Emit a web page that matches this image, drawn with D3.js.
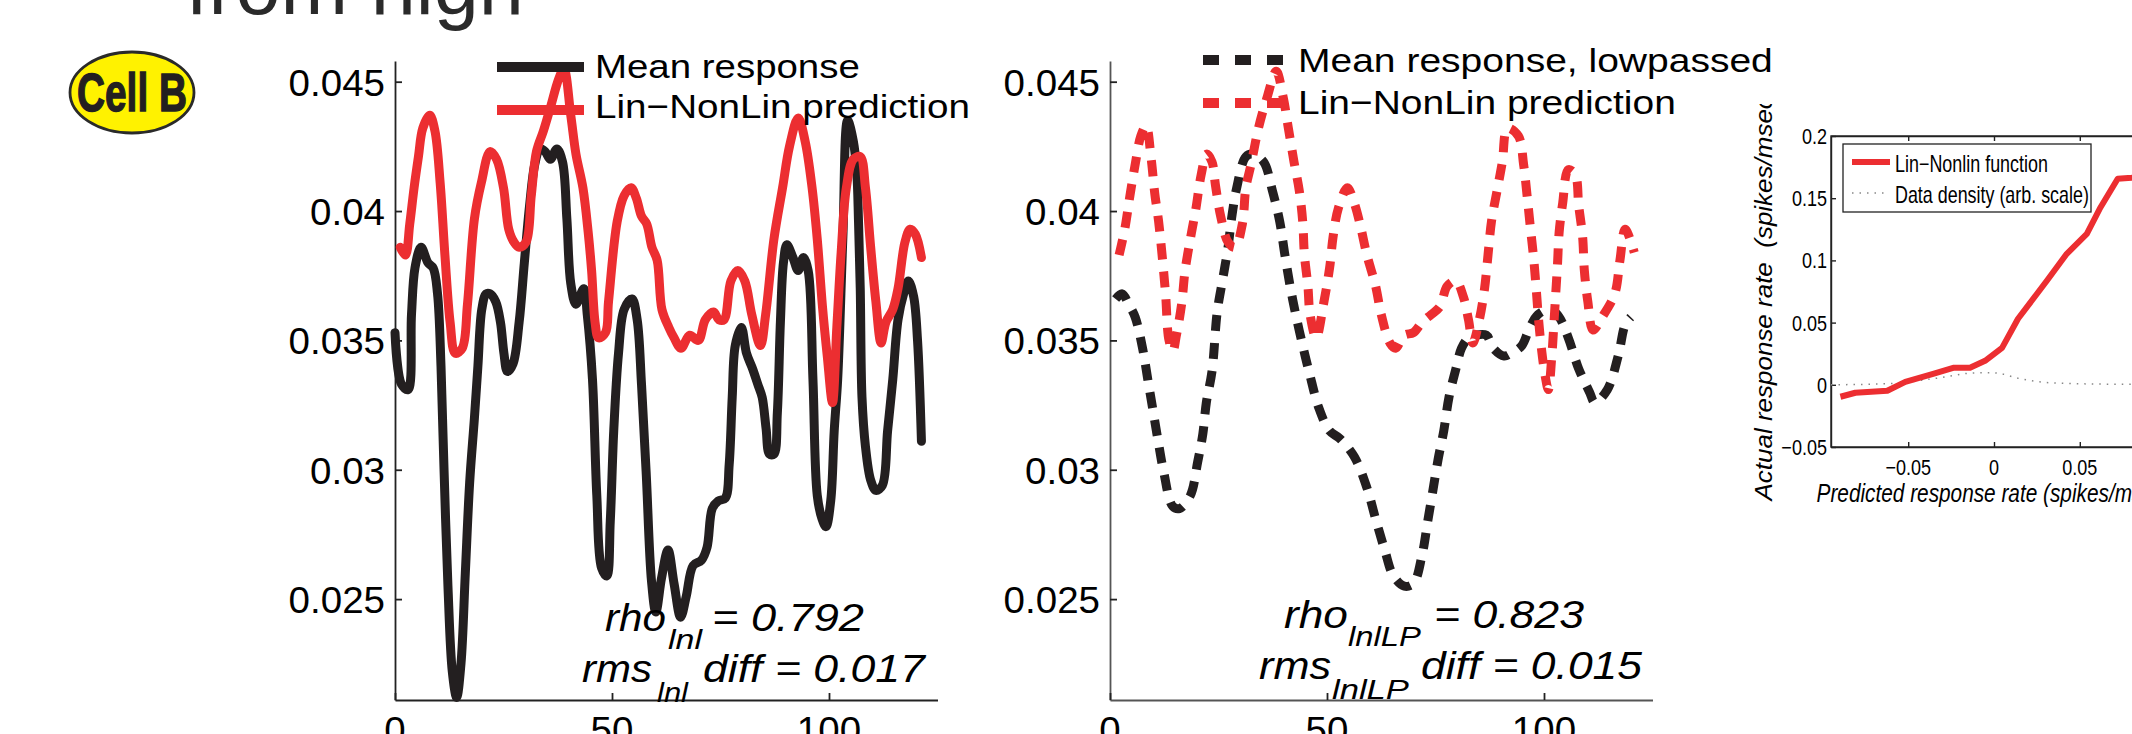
<!DOCTYPE html>
<html>
<head>
<meta charset="utf-8">
<script src="https://cdn.jsdelivr.net/npm/d3@7"></script>
<style>
  body { margin: 0; background: #fff; }
  svg { display: block; }
  text { font-family: "Liberation Sans", Arial, Helvetica, sans-serif; white-space: pre; }
</style>
</head>
<body>
<svg id="fig" width="2132" height="734"></svg>
<script>
// ========== DATA ==========
// panel 1: mean response vs Lin-NonLin prediction (time in samples)
var meanX = [0, 1.5, 3.0, 3.8, 4.6, 6.0, 7.6, 8.8, 9.8, 10.6, 11.3, 12.2, 13.2, 14.2, 15.2, 16.2, 17.2, 18.3, 19.1, 20, 21, 21.9, 23.2, 24.3, 25.1, 25.9, 27.2, 28.6, 29.8, 31, 32.2, 33.4, 34.6, 35.8, 37.3, 38.6, 39.6, 40.5, 41.7, 43.5, 44.3, 45.5, 46.5, 47.6, 48.8, 49.6, 50.4, 51.5, 52.8, 54.6, 55.8, 56.8, 57.9, 59.1, 60.1, 61.4, 62.9, 64.3, 65.8, 67.1, 68.7, 70.6, 71.9, 73.1, 74.5, 76.1, 77.0, 77.7, 78.4, 79.8, 81, 82.4, 83.6, 84.6, 85.5, 86.3, 87.3, 88.1, 88.8, 89.5, 90.3, 91.7, 92.9, 94.1, 95.2, 96.3, 97.3, 98.4, 99.3, 100.4, 101.2, 102, 103.2, 104.3, 105.6, 106.4, 106.8, 107.2, 107.6, 108.4, 109.6, 110.8, 112.3, 113.5, 114.7, 115.9, 117.2, 118.3, 119.5, 120.4, 121.3];
var meanY = [0.0353, 0.0333, 0.0331, 0.0360, 0.0378, 0.0386, 0.0380, 0.0378, 0.0368, 0.0340, 0.0300, 0.0255, 0.0222, 0.0212, 0.0225, 0.0260, 0.0295, 0.0320, 0.0340, 0.0362, 0.0368, 0.0368, 0.0365, 0.0357, 0.0345, 0.0338, 0.0341, 0.0357, 0.0380, 0.0402, 0.0418, 0.0424, 0.0423, 0.0420, 0.0424, 0.0419, 0.0397, 0.0372, 0.0364, 0.0370, 0.0360, 0.0335, 0.0290, 0.0262, 0.0259, 0.0280, 0.0315, 0.0345, 0.0362, 0.0366, 0.0358, 0.0333, 0.0298, 0.0257, 0.0245, 0.0258, 0.0269, 0.0256, 0.0243, 0.0251, 0.0263, 0.0265, 0.0270, 0.0285, 0.0288, 0.0289, 0.0302, 0.0328, 0.0348, 0.0355, 0.0345, 0.0339, 0.0333, 0.0328, 0.0316, 0.0306, 0.0306, 0.0322, 0.0357, 0.0380, 0.0387, 0.0382, 0.0377, 0.0382, 0.0377, 0.0335, 0.0290, 0.0281, 0.0278, 0.0288, 0.0315, 0.0335, 0.0390, 0.0435, 0.0427, 0.0415, 0.0396, 0.0370, 0.0328, 0.0309, 0.0296, 0.0292, 0.0294, 0.0315, 0.0335, 0.0358, 0.0368, 0.0373, 0.0367, 0.0350, 0.0311];

var predX = [1.2, 2.4, 3.4, 4.4, 5.4, 6.4, 8.0, 9.2, 10.4, 11.5, 12.7, 13.9, 15.5, 16.7, 18.3, 19.9, 21.9, 23.4, 25.0, 26.2, 27.4, 28.6, 30.2, 31.4, 32.6, 34.2, 35.8, 37.7, 38.9, 40.5, 41.7, 43.3, 44.5, 45.3, 46.1, 46.9, 48.5, 49.2, 51.2, 52.8, 54.4, 55.6, 56.8, 58.0, 59.2, 60.4, 61.5, 63.1, 64.3, 65.9, 67.9, 69.9, 71.5, 73.4, 74.6, 75.8, 77.4, 79.0, 80.6, 82.2, 84.2, 85.4, 87.3, 89.3, 90.9, 92.9, 94.5, 96.1, 97.3, 98.5, 99.6, 100.8, 101.8, 102.8, 104.0, 105.6, 107.2, 108.4, 109.6, 110.8, 112.0, 113.1, 114.7, 115.9, 117.5, 118.7, 119.9, 121.3];
var predY = [0.0386, 0.0383, 0.0395, 0.0409, 0.0421, 0.0432, 0.0437, 0.0431, 0.0411, 0.0383, 0.0357, 0.0345, 0.0347, 0.0364, 0.0397, 0.0411, 0.0423, 0.0420, 0.0409, 0.0393, 0.0388, 0.0386, 0.0388, 0.0406, 0.0423, 0.0431, 0.0440, 0.0451, 0.0455, 0.0437, 0.0422, 0.0409, 0.0392, 0.0377, 0.0357, 0.0351, 0.0353, 0.0365, 0.0396, 0.0406, 0.0409, 0.0405, 0.0398, 0.0395, 0.0386, 0.0381, 0.0362, 0.0355, 0.0351, 0.0347, 0.0352, 0.0350, 0.0358, 0.0361, 0.0358, 0.0358, 0.0373, 0.0377, 0.0373, 0.0360, 0.0348, 0.0360, 0.0389, 0.0409, 0.0425, 0.0436, 0.0427, 0.0409, 0.0389, 0.0363, 0.0344, 0.0326, 0.0355, 0.0384, 0.0409, 0.0420, 0.0421, 0.0409, 0.0386, 0.0365, 0.0349, 0.0357, 0.0362, 0.0370, 0.0388, 0.0393, 0.0391, 0.0382];

// panel 2: lowpassed mean response vs prediction
var lpMeanX = [1.3, 2.8, 4.3, 5.8, 7.5, 8.7, 10.0, 11.2, 12.4, 14.4, 16.0, 18.5, 20.2, 21.4, 22.2, 23.5, 24.7, 25.9, 27.2, 28.0, 29.2, 31.3, 32.9, 35.4, 37.4, 39.1, 40.3, 41.5, 42.8, 44.4, 46.0, 48.1, 50.6, 53.0, 56.3, 59.2, 61.2, 63.3, 65.3, 67.8, 69.9, 71.9, 73.2, 74.4, 75.6, 76.9, 78.1, 79.7, 81.0, 82.6, 84.3, 86.7, 88.3, 90.8, 92.4, 94.9, 96.5, 98.6, 101.5, 103.5, 105.6, 108.0, 110.5, 111.7, 114.6, 117.1, 118.7, 120.0];
var lpMeanY = [0.0366, 0.0368, 0.0364, 0.0359, 0.0347, 0.0335, 0.0322, 0.0310, 0.0299, 0.0286, 0.0285, 0.0290, 0.0303, 0.0314, 0.0326, 0.0338, 0.0361, 0.0373, 0.0386, 0.0397, 0.0409, 0.0421, 0.0422, 0.0419, 0.0408, 0.0396, 0.0383, 0.0371, 0.0360, 0.0348, 0.0337, 0.0324, 0.0315, 0.0312, 0.0305, 0.0293, 0.0281, 0.0269, 0.0259, 0.0255, 0.0256, 0.0267, 0.0280, 0.0292, 0.0304, 0.0315, 0.0328, 0.0339, 0.0347, 0.0351, 0.0352, 0.0352, 0.0347, 0.0344, 0.0345, 0.0348, 0.0354, 0.0360, 0.0362, 0.0359, 0.0351, 0.0339, 0.0330, 0.0326, 0.0331, 0.0344, 0.0356, 0.0359];

var lpPredX = [2.1, 3.4, 4.6, 5.8, 7.1, 8.3, 9.5, 10.3, 11.2, 12.0, 12.8, 13.6, 14.5, 15.3, 16.5, 17.3, 18.6, 19.8, 21.0, 22.3, 23.5, 24.3, 25.5, 27.2, 28.8, 30.5, 31.3, 32.5, 34.2, 36.2, 38.3, 39.9, 41.1, 42.4, 43.6, 44.4, 44.8, 45.6, 46.1, 47.5, 49.3, 50.6, 51.4, 52.6, 54.7, 56.3, 57.6, 59.2, 61.2, 62.5, 64.5, 65.8, 67.8, 69.9, 71.9, 74.0, 76.0, 77.7, 79.7, 81.4, 82.6, 83.6, 85.1, 86.3, 87.1, 87.9, 89.2, 90.4, 91.6, 94.1, 95.3, 96.1, 96.9, 97.6, 98.2, 98.7, 99.4, 100.3, 101.0, 101.8, 102.3, 102.7, 103.1, 103.5, 104.3, 105.6, 107.2, 108.0, 108.9, 109.3, 110.1, 111.3, 113.4, 116.3, 117.5, 118.7, 120.8];
var lpPredY = [0.0383, 0.0393, 0.0406, 0.0418, 0.0429, 0.0433, 0.0420, 0.0407, 0.0396, 0.0383, 0.0368, 0.0350, 0.0346, 0.0352, 0.0364, 0.0377, 0.0390, 0.0401, 0.0414, 0.0422, 0.0419, 0.0410, 0.0398, 0.0388, 0.0386, 0.0395, 0.0409, 0.0418, 0.0432, 0.0444, 0.0454, 0.0444, 0.0432, 0.0419, 0.0408, 0.0396, 0.0383, 0.0371, 0.0360, 0.0351, 0.0365, 0.0378, 0.0390, 0.0401, 0.0409, 0.0403, 0.0395, 0.0383, 0.0371, 0.0360, 0.0349, 0.0347, 0.0352, 0.0353, 0.0357, 0.0360, 0.0363, 0.0371, 0.0373, 0.0367, 0.0358, 0.0349, 0.0358, 0.0370, 0.0383, 0.0396, 0.0408, 0.0419, 0.0432, 0.0429, 0.0418, 0.0406, 0.0393, 0.0382, 0.0370, 0.0359, 0.0347, 0.0336, 0.0331, 0.0344, 0.0357, 0.0368, 0.0379, 0.0392, 0.0403, 0.0416, 0.0414, 0.0402, 0.0390, 0.0377, 0.0365, 0.0354, 0.0359, 0.0368, 0.0381, 0.0393, 0.0384];

// panel 3: static nonlinearity
var nlX = [-0.0895, -0.0808, -0.0622, -0.0517, -0.0355, -0.0238, -0.0140, -0.0052, 0.0047, 0.0140, 0.0308, 0.0424, 0.0541, 0.0616, 0.0721, 0.0802, 0.0900];
var nlY = [-0.0096, -0.0064, -0.0048, 0.0024, 0.0088, 0.0137, 0.0137, 0.0193, 0.0297, 0.0531, 0.0836, 0.1053, 0.1214, 0.1415, 0.1656, 0.1664, 0.1680];
var densX = [-0.095, -0.060, -0.035, -0.010, 0.000, 0.015, 0.033, 0.060, 0.090];
var densY = [0.0000, 0.0010, 0.0050, 0.0096, 0.0096, 0.0050, 0.0016, 0.0006, 0.0003];

var timeTicks = [0, 50, 100];
var respTicks = [0.025, 0.03, 0.035, 0.04, 0.045];
var respTickLabels = ['0.025', '0.03', '0.035', '0.04', '0.045'];
var nlXTicks = [-0.05, 0, 0.05, 0.1];
var nlXTickLabels = ['\u22120.05', '0', '0.05', '0.1'];
var nlYTicks = [-0.05, 0, 0.05, 0.1, 0.15, 0.2];
var nlYTickLabels = ['\u22120.05', '0', '0.05', '0.1', '0.15', '0.2'];

// ========== STYLE ==========
var black = '#231f20';
var red = '#ec2e31';
var axisColor = '#222';

var svg = d3.select('#fig');
svg.append('rect').attr('width', 2132).attr('height', 734).attr('fill', '#fff');

// text helper: horizontal stretch to match the exported figure
function label(g, str, x, y, o) {
	o = o || {};
	var t = g.append('text')
		.attr('x', 0).attr('y', 0)
		.style('font-size', (o.size || 35) + 'px')
		.style('font-style', o.italic ? 'italic' : 'normal')
		.style('font-weight', o.weight || 'normal')
		.attr('fill', o.fill || '#000')
		.text(str);
	var w = t.node().getComputedTextLength();
	var sx = o.width ? o.width / w : (o.sx || 1);
	var x0 = x;
	if (o.anchor === 'end') x0 = x - w * sx;
	else if (o.anchor === 'middle') x0 = x - w * sx / 2;
	t.attr('transform', 'translate(' + x0 + ',' + y + ') scale(' + sx + ',1)');
	return t;
}

function pairs(xs, ys) {
	return xs.map(function(v, i) { return [v, ys[i]]; });
}

// ========== TITLE / BADGE ==========
label(svg, 'from high', 186, 14, {size: 82, width: 338, fill: '#2a2a2a'});

svg.append('ellipse')
	.attr('cx', 132).attr('cy', 92.5)
	.attr('rx', 62).attr('ry', 40.5)
	.attr('fill', '#fff200')
	.attr('stroke', '#2a2a2a')
	.attr('stroke-width', 2.8);
label(svg, 'Cell B', 77, 111, {size: 54, weight: 'bold', width: 110, fill: black})
	.attr('stroke', black).attr('stroke-width', 1.4);

// ========== TIME PANELS ==========
function timePanel(ox, series) {
	var x = d3.scaleLinear().domain([0, 125]).range([ox, ox + 542.5]);
	var y = d3.scaleLinear().domain([0.0211, 0.0458]).range([700, 61]);
	var g = svg.append('g');

	var ya = g.append('g')
		.attr('transform', 'translate(' + ox + ',0)')
		.call(d3.axisLeft(y).tickValues(respTicks).tickSize(-7).tickSizeOuter(0).tickFormat(''));
	var xa = g.append('g')
		.attr('transform', 'translate(0,700)')
		.call(d3.axisBottom(x).tickValues(timeTicks).tickSize(-7).tickSizeOuter(0).tickFormat(''));
	[ya, xa].forEach(function(a) {
		a.selectAll('path, line').attr('stroke', axisColor).attr('stroke-width', 1.8);
	});

	respTicks.forEach(function(v, i) {
		label(g, respTickLabels[i], ox - 10, y(v) + 14, {size: 36, sx: 1.07, anchor: 'end'});
	});
	timeTicks.forEach(function(v) {
		label(g, String(v), x(v), 743, {size: 36, sx: 1.07, anchor: 'middle'});
	});

	var line = d3.line()
		.x(function(d) { return x(d[0]); })
		.y(function(d) { return y(d[1]); })
		.curve(d3.curveCatmullRom.alpha(0.5));

	series.forEach(function(s) {
		g.append('path')
			.attr('d', line(pairs(s.xs, s.ys)))
			.attr('fill', 'none')
			.attr('stroke', s.color)
			.attr('stroke-width', s.width)
			.attr('stroke-linejoin', 'round')
			.attr('stroke-linecap', s.dash ? 'butt' : 'round')
			.attr('stroke-dasharray', s.dash || null);
	});
	return g;
}

var p1 = timePanel(395, [
	{xs: meanX, ys: meanY, color: black, width: 9},
	{xs: predX, ys: predY, color: red, width: 9}
]);
var p2 = timePanel(1110, [
	{xs: lpMeanX, ys: lpMeanY, color: black, width: 9, dash: '16,12'},
	{xs: lpPredX, ys: lpPredY, color: red, width: 9, dash: '16,12'}
]);
p2.selectAll('g path.domain').attr('stroke', '#555');

// legends
function legendRow(g, x1, x2, y, color, dash, text, tx, ty, tw) {
	g.append('line')
		.attr('x1', x1).attr('x2', x2).attr('y1', y).attr('y2', y)
		.attr('stroke', color).attr('stroke-width', 10)
		.attr('stroke-dasharray', dash || null);
	label(g, text, tx, ty, {size: 34, width: tw});
}
legendRow(p1, 497, 584, 67, black, null, 'Mean response', 595, 78, 265);
legendRow(p1, 497, 584, 110, red, null, 'Lin\u2212NonLin prediction', 595, 118, 375);
legendRow(p2, 1203, 1283, 60, black, '16,16', 'Mean response, lowpassed', 1298, 72, 475);
legendRow(p2, 1203, 1283, 103, red, '16,16', 'Lin\u2212NonLin prediction', 1298, 114, 378);

// statistics annotations
label(p1, 'rho', 605, 631, {size: 38, italic: true, width: 61});
label(p1, 'lnl', 668, 649, {size: 28, italic: true, width: 34});
label(p1, '= 0.792', 712, 631, {size: 38, italic: true, width: 152});
label(p1, 'rms', 582, 682, {size: 38, italic: true, width: 70});
label(p1, 'lnl', 657, 702, {size: 28, italic: true, width: 31});
label(p1, 'diff = 0.017', 703, 682, {size: 38, italic: true, width: 222});

label(p2, 'rho', 1284, 628, {size: 38, italic: true, width: 64});
label(p2, 'lnlLP', 1348, 646, {size: 28, italic: true, width: 73});
label(p2, '= 0.823', 1434, 628, {size: 38, italic: true, width: 150});
label(p2, 'rms', 1259, 679, {size: 38, italic: true, width: 72});
label(p2, 'lnlLP', 1332, 699, {size: 28, italic: true, width: 77});
label(p2, 'diff = 0.015', 1421, 679, {size: 38, italic: true, width: 221});

// ========== NONLINEARITY PANEL ==========
var nx = d3.scaleLinear().domain([-0.095, 0.095]).range([1831, 2157]);
var ny = d3.scaleLinear().domain([-0.05, 0.2]).range([447, 136]);
var p3 = svg.append('g');

p3.append('rect')
	.attr('x', nx(-0.095)).attr('y', ny(0.2))
	.attr('width', nx(0.095) - nx(-0.095)).attr('height', ny(-0.05) - ny(0.2))
	.attr('fill', 'none').attr('stroke', axisColor).attr('stroke-width', 1.4);

var axes3 = [
	p3.append('g').attr('transform', 'translate(' + nx(-0.095) + ',0)')
		.call(d3.axisLeft(ny).tickValues(nlYTicks).tickSize(-5).tickSizeOuter(0).tickFormat('')),
	p3.append('g').attr('transform', 'translate(0,' + ny(-0.05) + ')')
		.call(d3.axisBottom(nx).tickValues(nlXTicks).tickSize(-5).tickSizeOuter(0).tickFormat('')),
	p3.append('g').attr('transform', 'translate(0,' + ny(0.2) + ')')
		.call(d3.axisTop(nx).tickValues(nlXTicks).tickSize(-5).tickSizeOuter(0).tickFormat(''))
];
axes3.forEach(function(a) {
	a.selectAll('path, line').attr('stroke', axisColor).attr('stroke-width', 1.4);
});

nlYTicks.forEach(function(v, i) {
	label(p3, nlYTickLabels[i], 1827, ny(v) + 8, {size: 22, sx: 0.82, anchor: 'end'});
});
nlXTicks.forEach(function(v, i) {
	label(p3, nlXTickLabels[i], nx(v), 475, {size: 22, sx: 0.82, anchor: 'middle'});
});

label(p3, 'Predicted response rate (spikes/msec)', nx(0), 502, {size: 26, italic: true, sx: 0.8, anchor: 'middle'});

svg.append('clipPath').attr('id', 'ylabclip')
	.append('rect').attr('x', 1700).attr('y', 104).attr('width', 120).attr('height', 630);
p3.append('g').attr('clip-path', 'url(#ylabclip)')
	.append('text')
	.attr('transform', 'translate(1772,294) scale(0.9,1) rotate(-90)')
	.attr('text-anchor', 'middle')
	.style('font-size', '26px')
	.style('font-style', 'italic')
	.attr('fill', '#000')
	.text('Actual response rate  (spikes/msec)');

var nline = d3.line()
	.x(function(d) { return nx(d[0]); })
	.y(function(d) { return ny(d[1]); });

p3.append('path')
	.attr('d', nline.curve(d3.curveMonotoneX)(pairs(densX, densY)))
	.attr('fill', 'none').attr('stroke', '#888')
	.attr('stroke-width', 1.5).attr('stroke-dasharray', '1.5,6');
p3.append('path')
	.attr('d', nline.curve(d3.curveLinear)(pairs(nlX, nlY)))
	.attr('fill', 'none').attr('stroke', red)
	.attr('stroke-width', 6).attr('stroke-linejoin', 'round');

// legend box
p3.append('rect')
	.attr('x', 1843).attr('y', 144).attr('width', 248).attr('height', 68)
	.attr('fill', '#fff').attr('stroke', axisColor).attr('stroke-width', 1.3);
p3.append('line')
	.attr('x1', 1852).attr('x2', 1890).attr('y1', 162).attr('y2', 162)
	.attr('stroke', red).attr('stroke-width', 6);
p3.append('line')
	.attr('x1', 1852).attr('x2', 1888).attr('y1', 193).attr('y2', 193)
	.attr('stroke', '#888').attr('stroke-width', 1.5).attr('stroke-dasharray', '1.5,6');
label(p3, 'Lin\u2212Nonlin function', 1895, 172, {size: 23, width: 153});
label(p3, 'Data density (arb. scale)', 1895, 203, {size: 23, width: 194});
</script>
</body>
</html>
